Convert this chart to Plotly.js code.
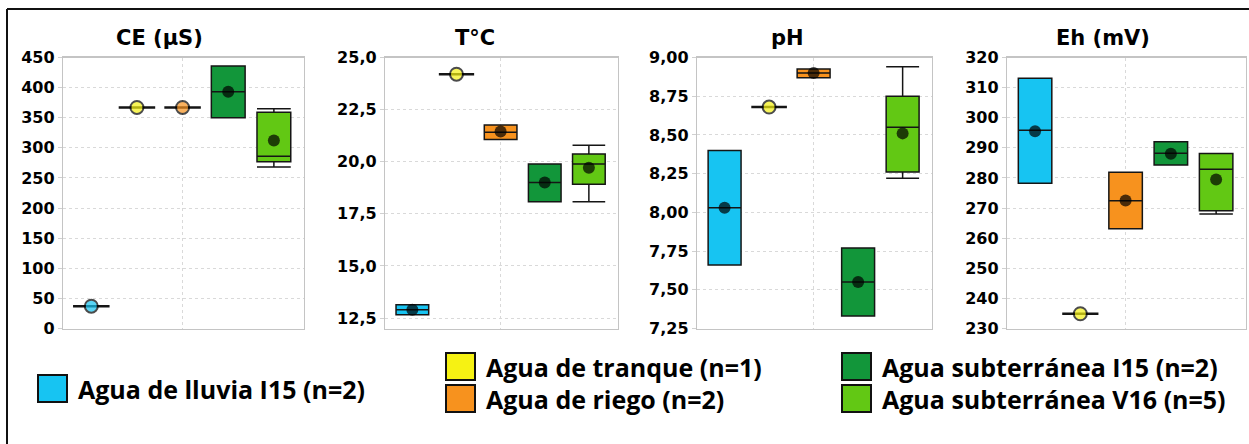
<!DOCTYPE html>
<html><head><meta charset="utf-8">
<script src="https://cdn.plot.ly/plotly-3.0.1.min.js"></script>
<style>html,body{margin:0;padding:0;background:#fff}#chart{width:1249px;height:444px}</style>
</head><body><div id="chart"></div>
<script>
// ---- data ----
const groups = ['Agua de lluvia I15 (n=2)', 'Agua de tranque (n=1)', 'Agua de riego (n=2)', 'Agua subterránea I15 (n=2)', 'Agua subterránea V16 (n=5)'];
const groupColors = ['#17c4f2', '#f6f213', '#f7921e', '#12963a', '#62c814'];
const positions = [1, 2, 3, 4, 5];
const panelTitles = ['CE (µS)', 'T°C', 'pH', 'Eh (mV)'];

const ce_q1     = [37, 367, 367, 350, 277];
const ce_median = [37, 367, 367, 393, 286];
const ce_q3     = [37, 367, 367, 436, 359];
const ce_low    = [37, 367, 367, 350, 268];
const ce_high   = [37, 367, 367, 436, 365];
const ce_mean   = [37, 367, 367, 393, 312];

const t_q1     = [12.66, 24.2, 21.07, 18.08, 18.92];
const t_median = [12.90, 24.2, 21.41, 19.00, 19.89];
const t_q3     = [13.14, 24.2, 21.76, 19.89, 20.37];
const t_low    = [12.66, 24.2, 21.07, 18.08, 18.08];
const t_high   = [13.14, 24.2, 21.76, 19.89, 20.79];
const t_mean   = [12.90, 24.2, 21.45, 19.00, 19.71];

const ph_q1     = [7.66, 8.68, 8.870, 7.33, 8.26];
const ph_median = [8.03, 8.68, 8.900, 7.55, 8.55];
const ph_q3     = [8.40, 8.68, 8.925, 7.77, 8.75];
const ph_low    = [7.66, 8.68, 8.870, 7.33, 8.22];
const ph_high   = [8.40, 8.68, 8.925, 7.77, 8.94];
const ph_mean   = [8.03, 8.68, 8.900, 7.55, 8.51];

const eh_q1     = [278.2, 234.9, 263.1, 284.3, 269.1];
const eh_median = [295.8, 234.9, 272.4, 288.2, 282.9];
const eh_q3     = [313.1, 234.9, 281.9, 292.0, 288.1];
const eh_low    = [278.2, 234.9, 263.1, 284.3, 268.0];
const eh_high   = [313.1, 234.9, 281.9, 292.0, 288.1];
const eh_mean   = [295.5, 234.9, 272.5, 288.0, 279.5];

const ce_ticks = [0, 50, 100, 150, 200, 250, 300, 350, 400, 450];
const t_ticks  = [12.5, 15.0, 17.5, 20.0, 22.5, 25.0];
const ph_ticks = [7.25, 7.50, 7.75, 8.00, 8.25, 8.50, 8.75, 9.00];
const eh_ticks = [230, 240, 250, 260, 270, 280, 290, 300, 310, 320];

// ---- build ----
const W = 1249, H = 444;
const panels = [
  {q1: ce_q1, med: ce_median, q3: ce_q3, lo: ce_low, hi: ce_high, mean: ce_mean, ticks: ce_ticks, range: [0, 450], fmt: 'd', px: [63, 304], tx: 159},
  {q1: t_q1, med: t_median, q3: t_q3, lo: t_low, hi: t_high, mean: t_mean, ticks: t_ticks, range: [12.0, 25.0], fmt: '.1f', px: [385, 618], tx: 475},
  {q1: ph_q1, med: ph_median, q3: ph_q3, lo: ph_low, hi: ph_high, mean: ph_mean, ticks: ph_ticks, range: [7.25, 9.0], fmt: '.2f', px: [697, 932], tx: 787},
  {q1: eh_q1, med: eh_median, q3: eh_q3, lo: eh_low, hi: eh_high, mean: eh_mean, ticks: eh_ticks, range: [230, 320], fmt: 'd', px: [1007, 1246], tx: 1103}
];
const yTop = 57.5, yBot = 328.5;
const yDomain = [(H - yBot) / H, (H - yTop) / H];

const traces = [];
const layout = {
  width: W, height: H,
  margin: {l: 0, r: 0, t: 0, b: 0},
  paper_bgcolor: '#ffffff', plot_bgcolor: '#ffffff',
  showlegend: false, boxmode: 'overlay',
  separators: ',.',
  annotations: [], shapes: []
};
const boldFont = (size) => ({family: 'DejaVu Sans', size: size, color: '#000', weight: 'bold'});

panels.forEach((p, i) => {
  const sfx = i === 0 ? '' : String(i + 1);
  const xa = 'x' + sfx, ya = 'y' + sfx;
  groups.forEach((g, j) => {
    const degenerate = p.q1[j] === p.q3[j];
    traces.push({
      type: 'box', name: g, xaxis: xa, yaxis: ya,
      x: [positions[j]],
      q1: [p.q1[j]], median: [p.med[j]], q3: [p.q3[j]],
      lowerfence: [p.lo[j]], upperfence: [p.hi[j]],
      width: degenerate ? 0.8 : 0.74, whiskerwidth: 1,
      fillcolor: groupColors[j],
      line: {color: '#151515', width: degenerate ? 2.6 : 1.5},
      hoverinfo: 'skip'
    });
  });
  const deg = groups.map((g, j) => p.q1[j] === p.q3[j]);
  traces.push({
    type: 'scatter', mode: 'markers', xaxis: xa, yaxis: ya,
    x: positions, y: p.mean,
    marker: {
      color: deg.map((d, j) => d ? groupColors[j] : '#000'),
      size: deg.map(d => d ? 13 : 12),
      line: {color: '#000', width: deg.map(d => d ? 2 : 0)}
    },
    hoverinfo: 'skip'
  });
  layout['xaxis' + sfx] = {
    domain: [p.px[0] / W, p.px[1] / W], anchor: ya,
    range: [0.38, 5.66], tickvals: [3], showticklabels: false, ticks: '',
    showgrid: true, gridcolor: '#d9d9d9', griddash: 'dot', gridwidth: 1,
    zeroline: false, showline: true, mirror: true, linecolor: '#c4c4c4', linewidth: 1.2,
    fixedrange: true
  };
  layout['yaxis' + sfx] = {
    domain: yDomain, anchor: xa,
    range: p.range, tickvals: p.ticks, tickformat: p.fmt,
    tickfont: boldFont(16), ticks: 'outside', ticklen: 4, tickcolor: '#d0d0d0',
    showgrid: true, gridcolor: '#d9d9d9', griddash: 'dot', gridwidth: 1,
    zeroline: false, showline: true, mirror: true, linecolor: '#c4c4c4', linewidth: 1.2,
    fixedrange: true
  };
  layout.annotations.push({
    xref: 'paper', yref: 'paper', x: p.tx / W, y: 1 - 38 / H,
    xanchor: 'center', yanchor: 'middle', showarrow: false,
    text: panelTitles[i], font: boldFont(21)
  });
});

// ---- legend (drawn) ----
const legendPos = [
  {x: 38, y: 375},
  {x: 446, y: 353},
  {x: 446, y: 385},
  {x: 842, y: 353},
  {x: 842, y: 385}
];
groups.forEach((g, j) => {
  const lp = legendPos[j];
  const w = 29, h = 27;
  layout.shapes.push({
    type: 'rect', xref: 'paper', yref: 'paper',
    x0: lp.x / W, x1: (lp.x + w) / W, y0: 1 - (lp.y + h) / H, y1: 1 - lp.y / H,
    fillcolor: groupColors[j], line: {color: '#111', width: 2}
  });
  layout.annotations.push({
    xref: 'paper', yref: 'paper', x: (lp.x + w + 9) / W, y: 1 - (lp.y + h / 2) / H,
    xanchor: 'left', yanchor: 'middle', showarrow: false,
    text: g, font: {family: 'Open Sans', size: 25, color: '#000', weight: 'bold'}
  });
});

// outer frame (top and left edges)
layout.shapes.push({type: 'line', xref: 'paper', yref: 'paper', x0: 7 / W, x1: 1, y0: 1 - 9 / H, y1: 1 - 9 / H, line: {color: '#111', width: 2}});
layout.shapes.push({type: 'line', xref: 'paper', yref: 'paper', x0: 7 / W, x1: 7 / W, y0: 0, y1: 1 - 9 / H, line: {color: '#111', width: 2}});

Plotly.newPlot('chart', traces, layout, {staticPlot: true, displayModeBar: false});
</script>
</body></html>
